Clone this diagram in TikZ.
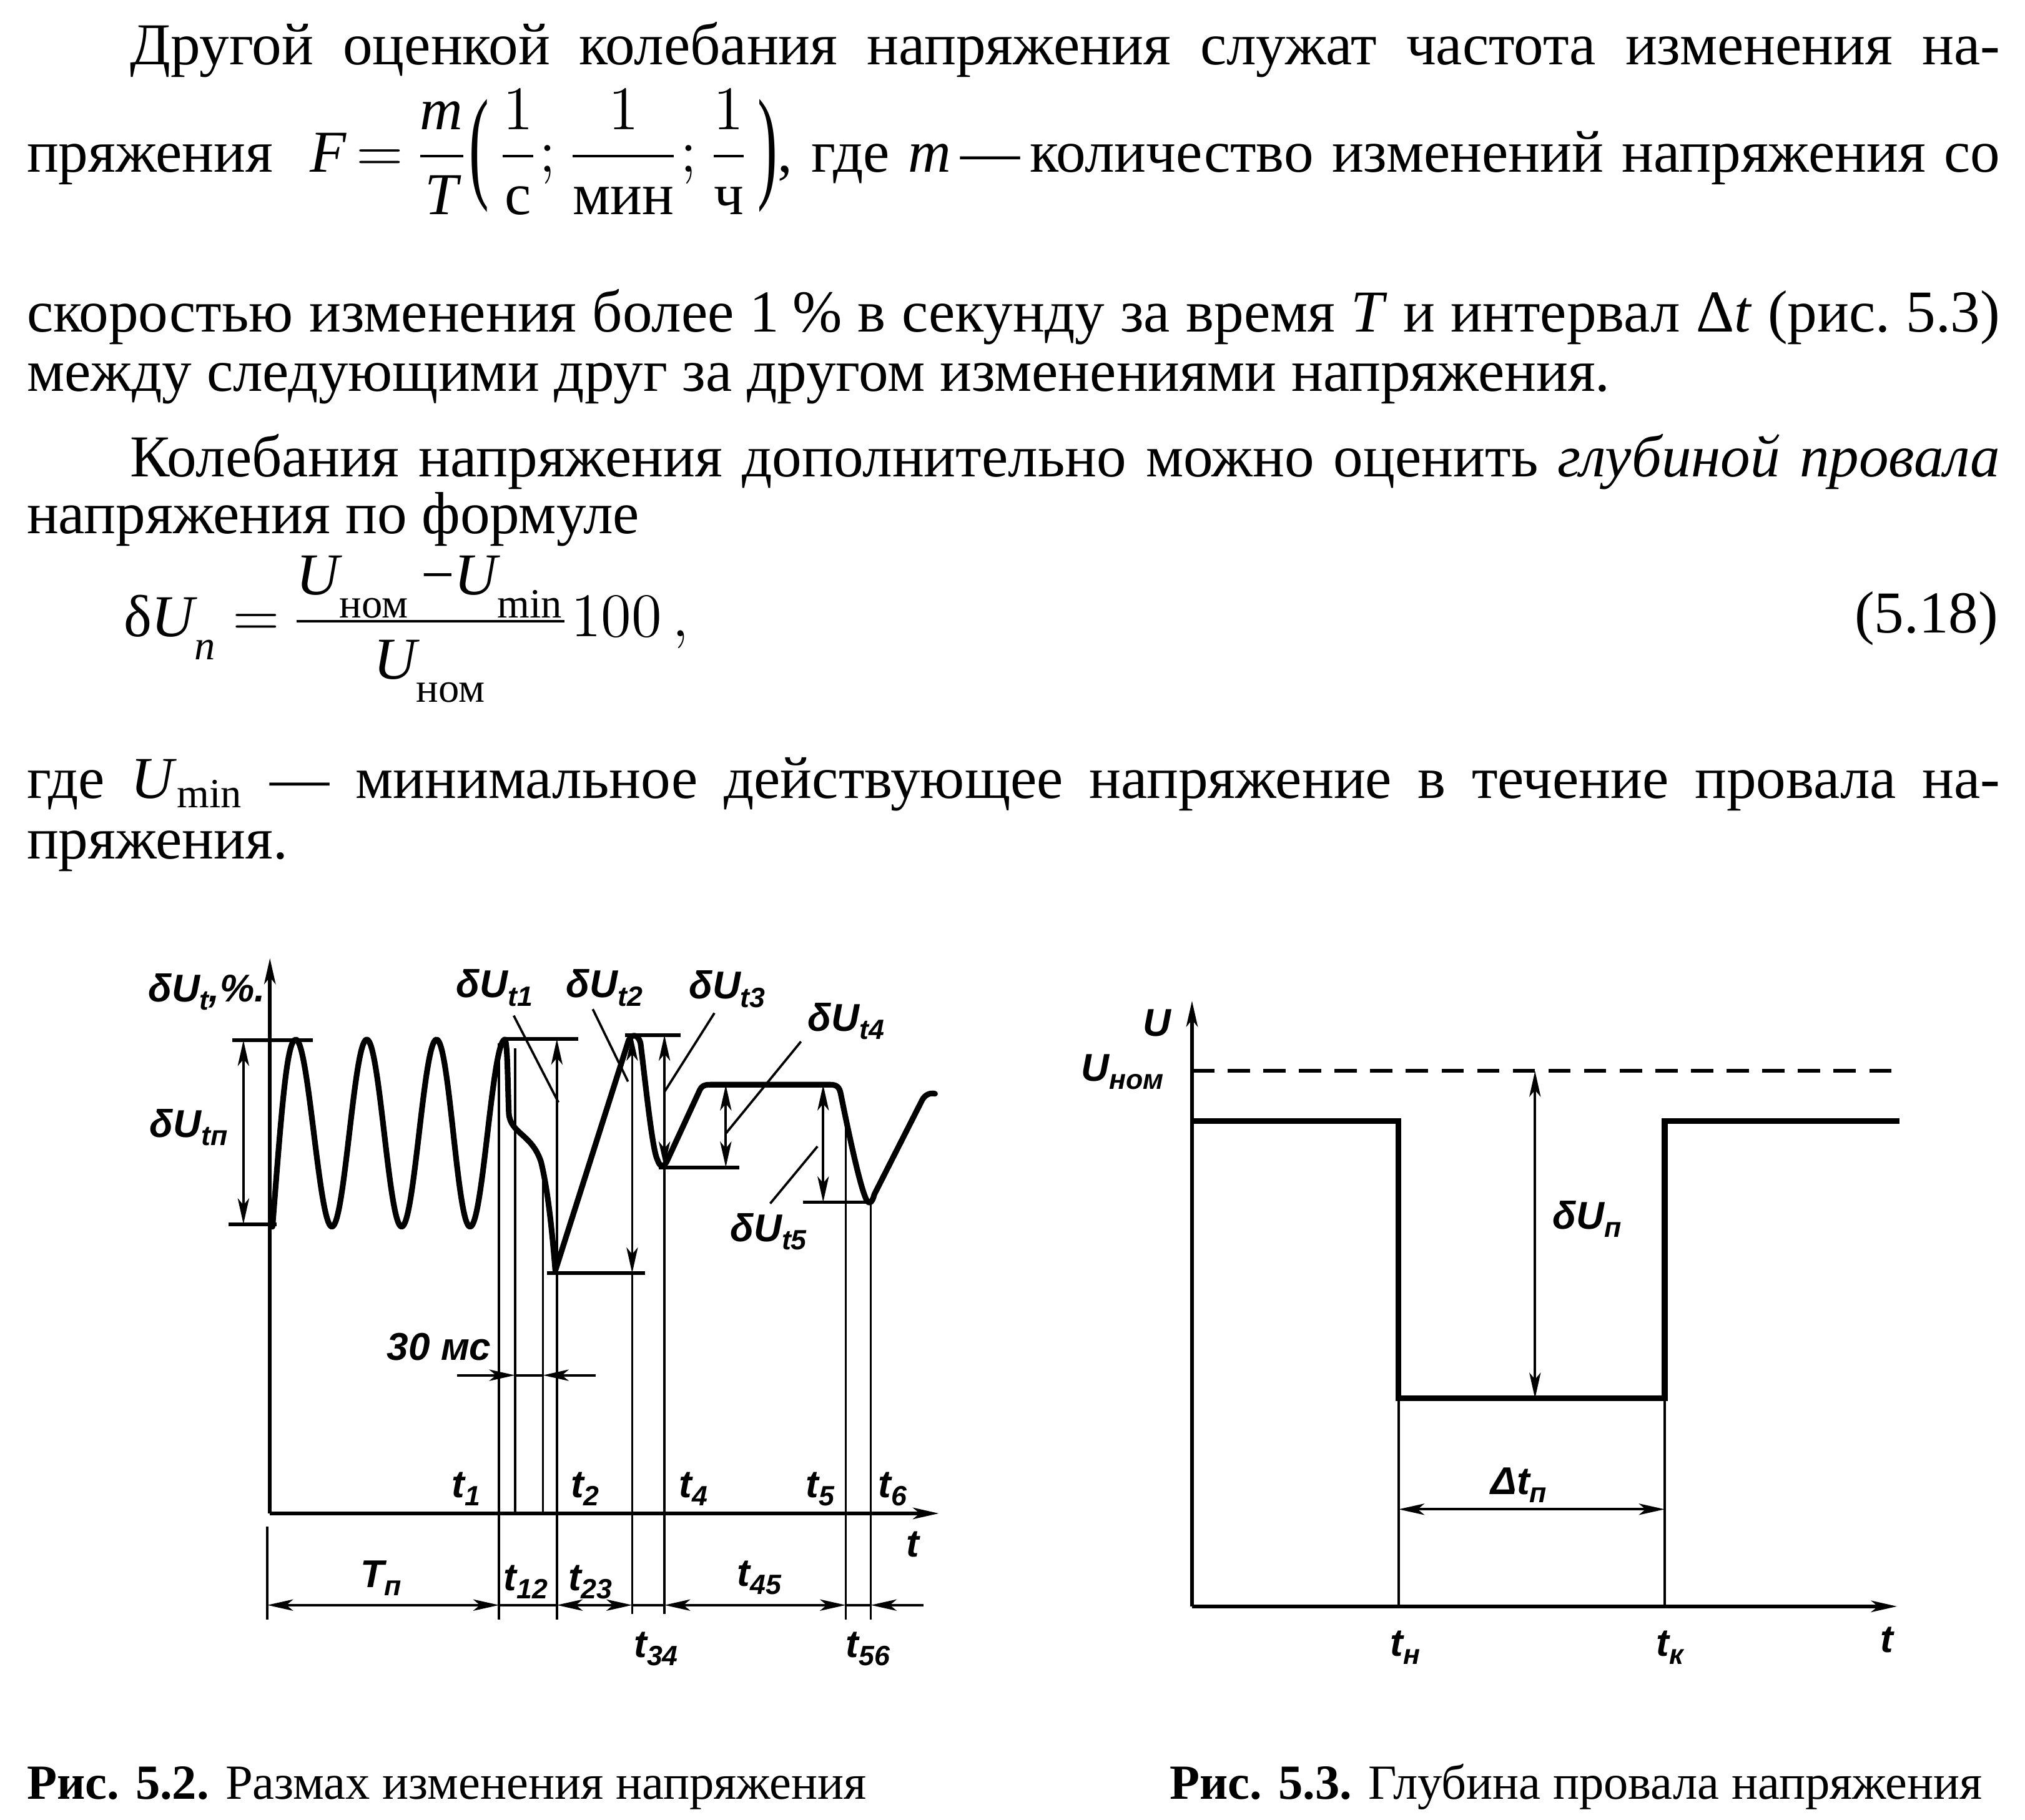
\documentclass[tikz,border=0pt]{standalone}
\usepackage{amsmath}
\usepackage{graphicx}
\usepackage{fontspec}
\setmainfont{Liberation Serif}
\newfontfamily\lab{Liberation Sans}
\usetikzlibrary{arrows.meta}
\newcommand\lsub[1]{\raisebox{-0.4ex}{\fontsize{5.4}{6}\selectfont #1}}
\newcommand\mi[1]{\text{\itshape #1}}
\newcommand\msub[1]{\raisebox{-0.5ex}{$\scriptstyle\text{#1}$}}
\newcommand\tallparen[1]{\raisebox{-2.75pt}{\scalebox{1}[2.1]{#1}}}
\tikzset{
  body/.style={anchor=base west, inner sep=0pt, font=\fontsize{11.5}{13}\selectfont},
  capt/.style={anchor=base west, inner sep=0pt, font=\fontsize{9.5}{11}\selectfont},
  lbl/.style={inner sep=0pt, font=\lab\itshape\bfseries\fontsize{7.5}{8}\selectfont},
  curve/.style={line width=1.1pt, line join=round, line cap=round},
  axis/.style={line width=0.75pt},
  thin/.style={line width=0.45pt},
  mid/.style={line width=0.7pt},
  arr/.style={-{Stealth[length=5pt,width=2.2pt,inset=1.3pt]}},
  darr/.style={{Stealth[length=5pt,width=2.2pt,inset=1.3pt]}-{Stealth[length=5pt,width=2.2pt,inset=1.3pt]}},
}
\begin{document}
\begin{tikzpicture}[x=0.25pt,y=-0.25pt]
\fill[white] (0,0) rectangle (1568,1409);
\useasboundingbox (0,0) rectangle (1568,1409);

% ---------------- text ----------------
\node[body] (l1) at (100,50) {\makebox[362pt][s]{Другой оценкой колебания напряжения служат частота изменения на-}};
\node[body] (l2) at (20,133) {\makebox[382pt][s]{пряжения \ $\mi{F}\,{=}\,\dfrac{\mi{m}}{\mi{T}}\mathopen{\tallparen{(}}\hspace{1.5pt}\dfrac{1}{\text{с}};\dfrac{1}{\text{мин}};\dfrac{1}{\text{ч}}\hspace{1.5pt}\mathclose{\tallparen{)}}$, где \textit{m}\,—\,количество изменений напряжения со}};
\node[body] (l3) at (20,257) {\makebox[382pt][s]{скоростью изменения более 1\hspace{2.5pt}\% в секунду за время \textit{T} и интервал Δ\textit{t} (рис.~5.3)}};
\node[body] (l4) at (20,303) {между следующими друг за другом изменениями напряжения.};
\node[body] (l5) at (100,369) {\makebox[362pt][s]{Колебания напряжения дополнительно можно оценить \textit{глубиной провала}}};
\node[body] (l6) at (20,413) {напряжения по формуле};
\node[body] (l7) at (95,493) {$\text{δ}\mi{U}_{\msub{\itshape п}}\ {=}\,\dfrac{\smash[b]{\mi{U}_{\msub{ном}}\,\text{−}\mi{U}_{\msub{min}}}}{\mi{U}_{\msub{ном}}}100\,,$};
\node[body, anchor=base east] (eq) at (1548,490) {(5.18)};
\node[body] (l8) at (20,618) {\makebox[382pt][s]{где \textit{U}\textsubscript{min} — минимальное действующее напряжение в течение провала на-}};
\node[body] (l9) at (20,665) {пряжения.};

\node[capt] (c1) at (20,1393) {\textbf{Рис. 5.2.} Размах изменения напряжения};
\node[capt] (c2) at (905,1393) {\textbf{Рис. 5.3.} Глубина провала напряжения};

% ---------------- left figure ----------------
\coordinate (O1) at (209,1172);
\draw[axis, arr] (O1) -- (209,742);
\draw[axis, arr] (O1) -- (727,1172);

\draw[curve] (211,950) .. controls (218,860) and (222,805) .. (229,805)
 .. controls (239,805) and (247,950) .. (257,950)
 .. controls (267,950) and (274,805) .. (284,805)
 .. controls (294,805) and (301,950) .. (311,950)
 .. controls (321,950) and (328,805) .. (338,805)
 .. controls (348,805) and (354,950) .. (364,950)
 .. controls (374,950) and (381,805) .. (391,805)
 .. controls (393,808) and (393,835) .. (394,862)
 .. controls (395,878) and (412,878) .. (419,900)
 .. controls (425,925) and (428,960) .. (430,984)
 -- (486,808)
 .. controls (488,800) and (494,800) .. (496,808)
 .. controls (500,840) and (505,890) .. (509,898)
 .. controls (511,904) and (514,905) .. (517,898)
 -- (541,846)
 .. controls (543,841) and (545,840) .. (550,840)
 -- (643,840)
 .. controls (648,840) and (650,842) .. (651,847)
 .. controls (656,872) and (665,915) .. (670,927)
 .. controls (672,933) and (675,933) .. (677,925)
 -- (714,852)
 .. controls (716,848) and (720,846) .. (724,847);

% vertical marker lines
\draw[thin] (386.4,808) -- (386.4,1254);
\draw[thin] (398.8,812) -- (398.8,1172);
\draw[thin] (420.4,900) -- (420.4,1172);
\draw[thin] (431.2,986) -- (431.2,1254);
\draw[thin] (489.5,986) -- (489.5,1250);
\draw[thin] (514.5,904) -- (514.5,1250);
\draw[thin] (654.9,868) -- (654.9,1254);
\draw[thin] (674.3,931) -- (674.3,1254);
\draw[thin] (207,1182) -- (207,1254);

% dimension arrows (levels)
\draw[mid] (180,805.5) -- (242,805.5);
\draw[mid] (177,948) -- (214,948);
\draw[thin,darr] (188.5,805.5) -- (188.5,948);
\draw[mid] (389,804.5) -- (447.5,804.5);
\draw[thin,darr] (431.2,804.5) -- (431.2,986);
\draw[mid] (423.7,986) -- (499.3,986);
\draw[mid] (484,801.5) -- (527,801.5);
\draw[thin,darr] (489.5,801.5) -- (489.5,986);
\draw[thin,darr] (514.5,801.5) -- (514.5,904);
\draw[mid] (510,904) -- (572.6,904);
\draw[thin,darr] (562,840) -- (562,904);
\draw[thin,darr] (637.4,840) -- (637.4,931);
\draw[mid] (622,931) -- (676,931);

% leaders
\draw[thin] (397.8,786.5) -- (432.4,853.7);
\draw[thin] (459,781.5) -- (486.3,837.6);
\draw[thin] (553.2,784.5) -- (514.4,845.7);
\draw[thin] (620.2,806.6) -- (562,877.8);
\draw[thin] (596.4,932) -- (633,887.8);

% 30 ms
\draw[thin,arr] (354,1065) -- (398.8,1065);
\draw[thin] (398.8,1065) -- (420.4,1065);
\draw[thin,arr] (461.5,1065) -- (420.4,1065);

% bottom dimension line
\draw[thin,darr] (207,1243) -- (386.4,1243);
\draw[thin] (386.4,1243) -- (431.2,1243);
\draw[thin,darr] (431.2,1243) -- (489.5,1243);
\draw[thin] (489.5,1243) -- (514.5,1243);
\draw[thin,darr] (514.5,1243) -- (654.9,1243);
\draw[thin] (654.9,1243) -- (674.3,1243);
\draw[thin,arr] (715,1243) -- (674.3,1243);

% labels left
\node[lbl] (ly) at (160,768) {δU\lsub{t},\%.};
\node[lbl] (ltn) at (146,873) {δU\lsub{tп}};
\node[lbl] (lt1d) at (383,765) {δU\lsub{t1}};
\node[lbl] (lt2d) at (468,765) {δU\lsub{t2}};
\node[lbl] (lt3d) at (563,766) {δU\lsub{t3}};
\node[lbl] (lt4d) at (655,791) {δU\lsub{t4}};
\node[lbl] (lt5d) at (595,954) {δU\lsub{t5}};
\node[lbl] (l30) at (340,1043) {30 мс};
\node[lbl] (t1) at (361,1153) {t\lsub{1}};
\node[lbl] (t2) at (453,1153) {t\lsub{2}};
\node[lbl] (t4) at (537,1153) {t\lsub{4}};
\node[lbl] (t5) at (635,1153) {t\lsub{5}};
\node[lbl] (t6) at (691,1153) {t\lsub{6}};
\node[lbl] (tax) at (707,1196) {t};
\node[lbl] (Tn) at (295,1222) {T\lsub{п}};
\node[lbl] (t12) at (407,1225) {t\lsub{12}};
\node[lbl] (t23) at (457,1225) {t\lsub{23}};
\node[lbl] (t45) at (588,1222) {t\lsub{45}};
\node[lbl] (t34) at (508,1277) {t\lsub{34}};
\node[lbl] (t56) at (672,1277) {t\lsub{56}};

% ---------------- right figure ----------------
\coordinate (O2) at (923,1244);
\draw[axis, arr] (O2) -- (923,775);
\draw[axis, arr] (O2) -- (1469,1244);
\draw[axis, dash pattern=on 4.3pt off 2.6pt] (923,829.4) -- (1471,829.4);
\draw[curve, line cap=butt, line join=miter] (923,868) -- (1083,868) -- (1083,1083) -- (1289,1083) -- (1289,868) -- (1471,868);
\draw[thin] (1083,1083) -- (1083,1244);
\draw[thin] (1289,1083) -- (1289,1244);
\draw[thin,darr] (1188.6,829.4) -- (1188.6,1083);
\draw[thin,darr] (1083,1168.8) -- (1289,1168.8);

\node[lbl] (U) at (896,792) {U};
\node[lbl] (Unom) at (869,830) {U\lsub{ном}};
\node[lbl] (dUn) at (1229,944) {δU\lsub{п}};
\node[lbl] (dtn) at (1176,1150) {Δt\lsub{п}};
\node[lbl] (tn) at (1088,1276) {t\lsub{н}};
\node[lbl] (tk) at (1293,1276) {t\lsub{к}};
\node[lbl] (t) at (1461,1270) {t};
\end{tikzpicture}
\end{document}
